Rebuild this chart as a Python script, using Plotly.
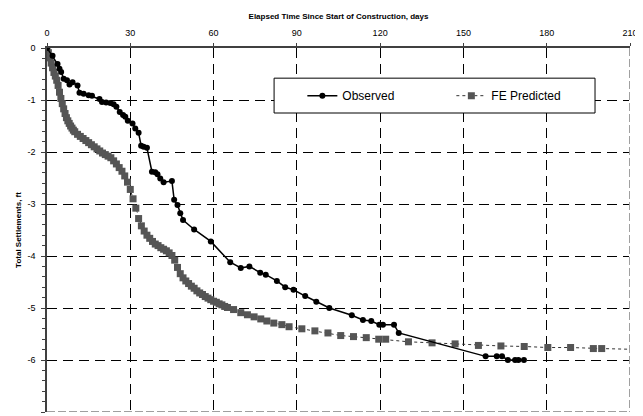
import plotly.graph_objects as go

# Observed settlements (days, ft)
obs_days = [0, 2.0, 3.8, 4.5, 5.1, 6.0, 7.2, 8.1, 9.2, 11.0, 11.7, 13.2, 15.0, 16.2,
            18.9, 19.8, 21.3, 22.8, 24.0, 25.0, 26.2, 27.4, 28.2, 29.1, 30.8, 31.8,
            33.0, 33.9, 34.8, 36.0, 37.8, 39.0, 39.8, 40.8, 42.0, 45.0, 45.8, 47.0,
            48.0, 49.0, 53.0, 59.0, 66.0, 69.8, 72.9, 76.8, 78.8, 82.8, 85.8, 88.8,
            93.0, 97.0, 101.7, 109.8, 113.8, 116.8, 119.7, 121.0, 125.0, 126.7,
            158.0, 162.0, 163.9, 166.0, 168.6, 169.8, 171.8]
obs_ft = [0, -0.15, -0.31, -0.40, -0.46, -0.59, -0.62, -0.70, -0.66, -0.72, -0.86,
          -0.88, -0.91, -0.92, -0.98, -1.04, -1.05, -1.06, -1.08, -1.13, -1.23, -1.29,
          -1.32, -1.40, -1.45, -1.55, -1.63, -1.88, -1.90, -1.92, -2.38, -2.39, -2.43,
          -2.51, -2.58, -2.56, -2.92, -3.02, -3.18, -3.31, -3.49, -3.72, -4.12, -4.23,
          -4.20, -4.32, -4.36, -4.48, -4.60, -4.65, -4.77, -4.88, -5.00, -5.14, -5.23,
          -5.25, -5.32, -5.32, -5.32, -5.48, -5.93, -5.93, -5.93, -6.00, -6.00, -6.00,
          -6.00]

# FE predicted settlements (days, ft)
fe_days = [0, 0.5, 1.0, 1.5, 2.0, 2.5, 3.0, 3.5, 4.0, 4.5, 5.0, 5.5, 6.0, 6.5, 7.0,
           7.5, 8.0, 8.5, 9.0, 9.5, 10, 11, 12, 13, 14, 15, 16, 17, 18, 19, 20, 21,
           22, 23, 24, 25, 26, 27, 28, 29, 30, 31, 32, 33, 34, 35, 36, 37, 38, 39,
           40, 41, 42, 43, 44, 45, 46, 47, 48, 49, 50, 51, 52, 53, 54, 55, 56, 57,
           58, 59, 60, 61, 62, 63, 64, 65, 67.2, 69.8, 72.2, 74.6, 77.0, 79.2, 81.7,
           84.6, 87.2, 91.8, 96.5, 101.2, 105.8, 110.4, 115.0, 119.5, 122.0, 130.2,
           138.7, 147.0, 155.4, 163.5, 171.9, 180.4, 188.6, 196.8, 199.8, 215.0]
fe_ft = [0.00, -0.09, -0.19, -0.29, -0.38, -0.47, -0.54, -0.62, -0.72, -0.85, -0.97,
         -1.07, -1.17, -1.26, -1.34, -1.40, -1.45, -1.50, -1.54, -1.58, -1.61, -1.66,
         -1.70, -1.74, -1.78, -1.82, -1.86, -1.90, -1.94, -1.98, -2.02, -2.05, -2.08,
         -2.11, -2.17, -2.23, -2.30, -2.37, -2.46, -2.58, -2.72, -2.90, -3.08, -3.28,
         -3.42, -3.52, -3.60, -3.66, -3.72, -3.77, -3.80, -3.84, -3.87, -3.90, -3.94,
         -3.99, -4.08, -4.22, -4.34, -4.42, -4.48, -4.53, -4.58, -4.62, -4.67, -4.71,
         -4.74, -4.78, -4.81, -4.84, -4.87, -4.89, -4.92, -4.94, -4.97, -4.99, -5.03,
         -5.09, -5.13, -5.17, -5.21, -5.25, -5.29, -5.32, -5.36, -5.40, -5.44, -5.48,
         -5.53, -5.55, -5.57, -5.60, -5.60, -5.65, -5.67, -5.69, -5.72, -5.73, -5.74,
         -5.76, -5.76, -5.78, -5.78, -5.80]

x_ticks = [0, 30, 60, 90, 120, 150, 180, 210]
y_ticks = [0, -1, -2, -3, -4, -5, -6, -7]

FONT = "Liberation Sans, Arial, sans-serif"

fig = go.Figure()
fig.add_trace(go.Scatter(
    x=fe_days, y=fe_ft, name="FE Predicted", mode="lines+markers",
    line=dict(color="#333333", width=1, dash="dot"),
    marker=dict(symbol="square", size=7, color="#555555"),
    legendrank=2))
fig.add_trace(go.Scatter(
    x=obs_days, y=obs_ft, name="Observed", mode="lines+markers",
    line=dict(color="black", width=1.5),
    marker=dict(symbol="circle", size=6, color="black"),
    legendrank=1))

grid = dict(showgrid=True, gridcolor="black", gridwidth=1, griddash="10px,6px")

fig.update_layout(
    width=635, height=408,
    margin=dict(l=39, r=13, t=40, b=4),
    paper_bgcolor="white", plot_bgcolor="white",
    font=dict(family=FONT, size=9, color="black"),
    showlegend=True,
    legend=dict(orientation="h", x=0.438, xanchor="left", y=0.869, yanchor="middle",
                bgcolor="rgba(0,0,0,0)", borderwidth=0,
                font=dict(size=12, family=FONT),
                entrywidth=104, entrywidthmode="pixels"),
    xaxis=dict(side="top", range=[0, 210], tickvals=x_ticks,
               ticktext=[str(v) for v in x_ticks],
               showline=True, linecolor="#404040", linewidth=1.5,
               ticks="outside", ticklen=3, tickcolor="#404040",
               ticklabelstandoff=4, automargin=False,
               zeroline=False, tickfont=dict(size=9),
               title=dict(text="<b>Elapsed Time Since Start of Construction, days</b>",
                          font=dict(size=8), standoff=7),
               **grid),
    yaxis=dict(range=[-7, 0], tickvals=y_ticks,
               ticktext=[str(v) for v in y_ticks],
               showline=True, linecolor="#404040", linewidth=1.5,
               ticks="outside", ticklen=4, tickcolor="#404040",
               ticklabelstandoff=4, automargin=False,
               minor=dict(dtick=0.2, ticks="outside", ticklen=3, tickcolor="#404040",
                          showgrid=False),
               zeroline=False, tickfont=dict(size=9),
               title=dict(text="<b>Total Settlements, ft</b>", font=dict(size=8),
                          standoff=5),
               **grid),
    shapes=[
        # cover the edge grid lines, then draw gray dashed frame on right/bottom
        dict(type="line", xref="x", yref="y", x0=210, x1=210, y0=0, y1=-7,
             line=dict(color="white", width=2), layer="above"),
        dict(type="line", xref="x", yref="y", x0=0, x1=210, y0=-7, y1=-7,
             line=dict(color="white", width=2), layer="above"),
        dict(type="line", xref="x", yref="y", x0=210, x1=210, y0=0, y1=-7,
             line=dict(color="#808080", width=1.5, dash="8px,3px"), layer="above"),
        dict(type="line", xref="x", yref="y", x0=0, x1=210, y0=-7, y1=-7,
             line=dict(color="#808080", width=1.5, dash="8px,3px"), layer="above"),
        # legend box
        dict(type="rect", xref="x", yref="y", x0=81.8, x1=197.4, y0=-0.58, y1=-1.25,
             line=dict(color="black", width=1), fillcolor="white", layer="above"),
    ],
)

fig.write_html("out.html")
